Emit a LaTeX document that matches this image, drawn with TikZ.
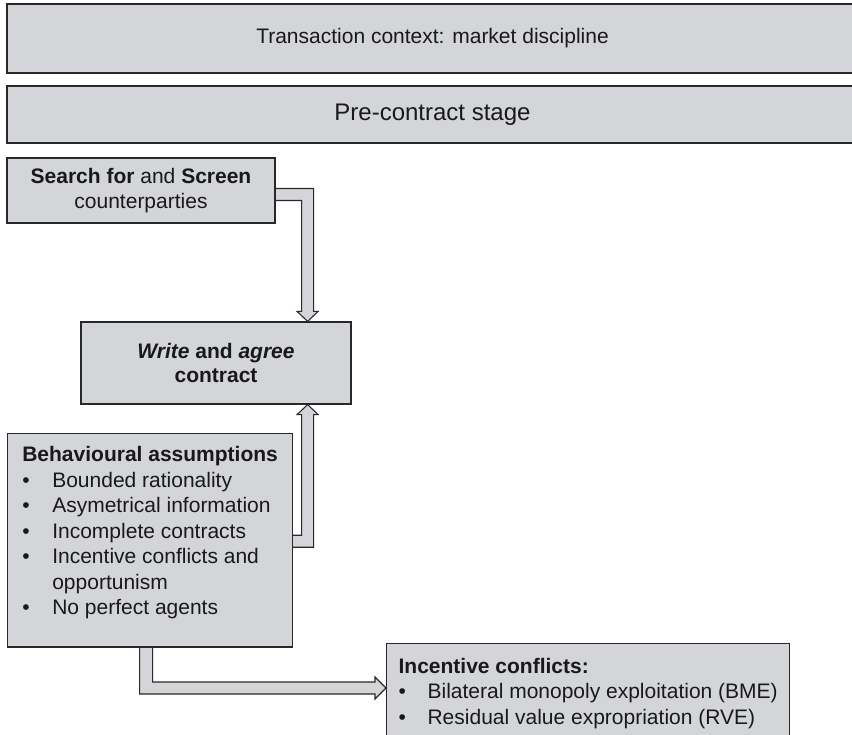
\documentclass[tikz,border=0pt]{standalone}
\usepackage{fontspec}
\setmainfont{Liberation Sans}
\usetikzlibrary{calc,backgrounds}
\usepackage{xcolor}
\definecolor{boxgray}{RGB}{212,213,216}
\definecolor{edgegray}{RGB}{40,40,40}

\begin{document}
\begin{tikzpicture}[x=1pt,y=-1pt]
\tikzstyle{band} = [rectangle, draw=edgegray, line width=1.2pt, fill=boxgray,
text=black!90, font=\fontsize{21}{25}\selectfont, inner sep=0pt]
\tikzstyle{block} = [band, align=center, font=\fontsize{21}{24.5}\selectfont]
\tikzstyle{listbox} = [band, anchor=north west, inner xsep=10pt,
text height=17.85pt, font=\fontsize{21}{25.5}\selectfont]
\tikzstyle{hollow} = [draw=edgegray, line width=1.1pt, fill=boxgray, line join=miter]

\useasboundingbox (0,0) rectangle (852,735);

% context bands
\node [band, minimum width=851pt, minimum height=69pt] (context) at (432.5,38.5)
{Transaction context: market discipline};
\node [band, minimum width=851pt, minimum height=57pt, font=\fontsize{24}{28}\selectfont]
(stage) at (432.5,114.5) {Pre-contract stage};

% steps
\node [block, minimum width=268pt, minimum height=65pt] (search) at (141,190.5)
{\textbf{Search for} and \textbf{Screen}\\counterparties};
\node [block, minimum width=270pt, minimum height=82pt] (write) at (216,363)
{\textbf{\textit{Write} and \textit{agree}}\\\textbf{contract}};

% lists
\node [listbox, minimum width=285pt, inner ysep=10.5pt, text depth=174.5pt] (behav) at (7,433) {%
\begin{tabular}[t]{@{}p{30pt}@{}l@{}}
\multicolumn{2}{@{}l@{}}{\textbf{Behavioural assumptions}}\\
\textbullet & Bounded rationality\\
\textbullet & Asymetrical information\\
\textbullet & Incomplete contracts\\
\textbullet & Incentive conflicts and\\
 & opportunism\\
\textbullet & No perfect agents
\end{tabular}};
\node [listbox, minimum width=402pt, inner xsep=12pt, inner ysep=12pt, text depth=68.5pt] (incent) at (386,643) {%
\begin{tabular}[t]{@{}p{29pt}@{}l@{}}
\multicolumn{2}{@{}l@{}}{\textbf{Incentive conflicts:}}\\
\textbullet & Bilateral monopoly exploitation (BME)\\
\textbullet & Residual value expropriation (RVE)
\end{tabular}};

% hollow arrows
\coordinate (tipA) at ($(write.north east)+(-44,0)$);
\coordinate (tipB) at ($(write.south east)+(-44,0)$);
\coordinate (tipC) at ($(incent.north west)+(0,45)$);
\begin{scope}[on background layer]
\path [hollow] ($(search.east)+(0,-2)$) -| ($(tipA)+(6,-10)$) -- ($(tipA)+(10.5,-10)$)
 -- (tipA) -- ($(tipA)+(-10.5,-10)$) -- ($(tipA)+(-6,-10)$) |- ($(search.east)+(0,10)$);
\path [hollow] ($(behav.east)+(0,-5)$) -| ($(tipB)+(-6,10)$) -- ($(tipB)+(-10.5,10)$)
 -- (tipB) -- ($(tipB)+(10.5,10)$) -- ($(tipB)+(6,10)$) |- ($(behav.east)+(0,7)$);
\path [hollow] ($(behav.south)+(-10.5,0)$) |- ($(tipC)+(-11,6)$) -- ($(tipC)+(-11,11)$)
 -- (tipC) -- ($(tipC)+(-11,-11)$) -- ($(tipC)+(-11,-6)$) -| ($(behav.south)+(2.5,0)$);
\end{scope}
\end{tikzpicture}
\end{document}
